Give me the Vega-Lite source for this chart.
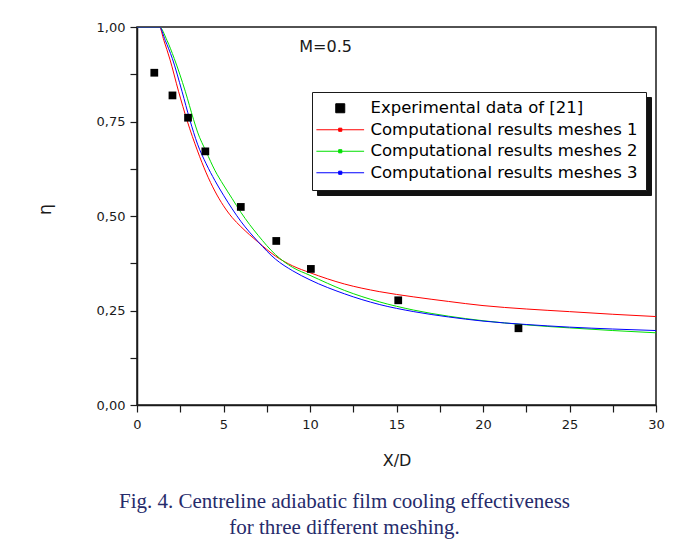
{
  "$schema": "https://vega.github.io/schema/vega-lite/v6.json",
  "width": 519,
  "height": 378,
  "autosize": {"type": "none"},
  "padding": {"left": 137, "top": 27, "right": 20, "bottom": 146},
  "background": "white",
  "config": {
    "view": {"stroke": "#1a1a1a", "strokeWidth": 1.5},
    "font": "DejaVu Sans",
    "axis": {
      "domainColor": "#1a1a1a", "domainWidth": 1.5,
      "tickColor": "#1a1a1a", "tickWidth": 1.2,
      "labelFont": "DejaVu Sans", "labelFontSize": 13, "labelColor": "#1a1a1a",
      "titleFont": "DejaVu Sans", "titleFontWeight": "normal", "titleColor": "#1a1a1a",
      "grid": false, "labelFlush": false, "labelOverlap": false, "labelBound": false
    }
  },
  "title": {
    "text": ["Fig. 4. Centreline adiabatic film cooling effectiveness", "for three different meshing."],
    "orient": "bottom",
    "anchor": "middle",
    "frame": "group",
    "font": "Liberation Serif",
    "fontSize": 21,
    "fontWeight": "normal",
    "color": "#262b6b",
    "lineHeight": 26,
    "dx": -52,
    "offset": 23
  },
  "datasets": {
    "sim": [
      {"series": "Computational results meshes 1", "x": 0, "eta": 1},
      {"series": "Computational results meshes 1", "x": 1.3, "eta": 1},
      {"series": "Computational results meshes 1", "x": 1.55, "eta": 0.965},
      {"series": "Computational results meshes 1", "x": 1.9, "eta": 0.915},
      {"series": "Computational results meshes 1", "x": 2.4, "eta": 0.83},
      {"series": "Computational results meshes 1", "x": 2.9, "eta": 0.752},
      {"series": "Computational results meshes 1", "x": 3.5, "eta": 0.672},
      {"series": "Computational results meshes 1", "x": 4, "eta": 0.614},
      {"series": "Computational results meshes 1", "x": 4.5, "eta": 0.566},
      {"series": "Computational results meshes 1", "x": 5, "eta": 0.527},
      {"series": "Computational results meshes 1", "x": 5.5, "eta": 0.496},
      {"series": "Computational results meshes 1", "x": 6, "eta": 0.472},
      {"series": "Computational results meshes 1", "x": 7, "eta": 0.431},
      {"series": "Computational results meshes 1", "x": 8, "eta": 0.394},
      {"series": "Computational results meshes 1", "x": 9, "eta": 0.368},
      {"series": "Computational results meshes 1", "x": 10, "eta": 0.35},
      {"series": "Computational results meshes 1", "x": 12, "eta": 0.32},
      {"series": "Computational results meshes 1", "x": 14, "eta": 0.3},
      {"series": "Computational results meshes 1", "x": 16, "eta": 0.286},
      {"series": "Computational results meshes 1", "x": 18, "eta": 0.274},
      {"series": "Computational results meshes 1", "x": 20, "eta": 0.263},
      {"series": "Computational results meshes 1", "x": 22.5, "eta": 0.254},
      {"series": "Computational results meshes 1", "x": 25, "eta": 0.247},
      {"series": "Computational results meshes 1", "x": 27.5, "eta": 0.24},
      {"series": "Computational results meshes 1", "x": 30, "eta": 0.234},
      {"series": "Computational results meshes 2", "x": 0, "eta": 1},
      {"series": "Computational results meshes 2", "x": 1.3, "eta": 1},
      {"series": "Computational results meshes 2", "x": 1.73, "eta": 0.965},
      {"series": "Computational results meshes 2", "x": 2.15, "eta": 0.917},
      {"series": "Computational results meshes 2", "x": 2.79, "eta": 0.83},
      {"series": "Computational results meshes 2", "x": 3.27, "eta": 0.755},
      {"series": "Computational results meshes 2", "x": 3.5, "eta": 0.722},
      {"series": "Computational results meshes 2", "x": 4, "eta": 0.67},
      {"series": "Computational results meshes 2", "x": 4.5, "eta": 0.621},
      {"series": "Computational results meshes 2", "x": 5, "eta": 0.582},
      {"series": "Computational results meshes 2", "x": 5.5, "eta": 0.546},
      {"series": "Computational results meshes 2", "x": 6, "eta": 0.51},
      {"series": "Computational results meshes 2", "x": 6.5, "eta": 0.478},
      {"series": "Computational results meshes 2", "x": 7, "eta": 0.449},
      {"series": "Computational results meshes 2", "x": 8, "eta": 0.398},
      {"series": "Computational results meshes 2", "x": 9, "eta": 0.364},
      {"series": "Computational results meshes 2", "x": 10, "eta": 0.343},
      {"series": "Computational results meshes 2", "x": 12, "eta": 0.303},
      {"series": "Computational results meshes 2", "x": 14, "eta": 0.273},
      {"series": "Computational results meshes 2", "x": 16, "eta": 0.251},
      {"series": "Computational results meshes 2", "x": 18, "eta": 0.235},
      {"series": "Computational results meshes 2", "x": 20, "eta": 0.223},
      {"series": "Computational results meshes 2", "x": 22.5, "eta": 0.212},
      {"series": "Computational results meshes 2", "x": 25, "eta": 0.204},
      {"series": "Computational results meshes 2", "x": 27.5, "eta": 0.197},
      {"series": "Computational results meshes 2", "x": 30, "eta": 0.191},
      {"series": "Computational results meshes 3", "x": 0, "eta": 1},
      {"series": "Computational results meshes 3", "x": 1.3, "eta": 1},
      {"series": "Computational results meshes 3", "x": 1.63, "eta": 0.965},
      {"series": "Computational results meshes 3", "x": 2.04, "eta": 0.917},
      {"series": "Computational results meshes 3", "x": 2.6, "eta": 0.83},
      {"series": "Computational results meshes 3", "x": 3.05, "eta": 0.755},
      {"series": "Computational results meshes 3", "x": 3.5, "eta": 0.69},
      {"series": "Computational results meshes 3", "x": 4, "eta": 0.638},
      {"series": "Computational results meshes 3", "x": 4.5, "eta": 0.594},
      {"series": "Computational results meshes 3", "x": 5, "eta": 0.555},
      {"series": "Computational results meshes 3", "x": 5.5, "eta": 0.519},
      {"series": "Computational results meshes 3", "x": 6, "eta": 0.486},
      {"series": "Computational results meshes 3", "x": 7, "eta": 0.432},
      {"series": "Computational results meshes 3", "x": 8, "eta": 0.386},
      {"series": "Computational results meshes 3", "x": 9, "eta": 0.355},
      {"series": "Computational results meshes 3", "x": 10, "eta": 0.331},
      {"series": "Computational results meshes 3", "x": 12, "eta": 0.294},
      {"series": "Computational results meshes 3", "x": 14, "eta": 0.266},
      {"series": "Computational results meshes 3", "x": 16, "eta": 0.247},
      {"series": "Computational results meshes 3", "x": 18, "eta": 0.233},
      {"series": "Computational results meshes 3", "x": 20, "eta": 0.222},
      {"series": "Computational results meshes 3", "x": 22.5, "eta": 0.213},
      {"series": "Computational results meshes 3", "x": 25, "eta": 0.206},
      {"series": "Computational results meshes 3", "x": 27.5, "eta": 0.201},
      {"series": "Computational results meshes 3", "x": 30, "eta": 0.197}
    ],
    "exp": [
      {"series": "Experimental data of [21]", "x": 1.0, "eta": 0.879},
      {"series": "Experimental data of [21]", "x": 2.05, "eta": 0.819},
      {"series": "Experimental data of [21]", "x": 2.95, "eta": 0.76},
      {"series": "Experimental data of [21]", "x": 3.95, "eta": 0.671},
      {"series": "Experimental data of [21]", "x": 6.0, "eta": 0.524},
      {"series": "Experimental data of [21]", "x": 8.05, "eta": 0.434},
      {"series": "Experimental data of [21]", "x": 10.05, "eta": 0.36},
      {"series": "Experimental data of [21]", "x": 15.1, "eta": 0.277},
      {"series": "Experimental data of [21]", "x": 22.05, "eta": 0.203}
    ]
  },
  "layer": [
    {
      "data": {"name": "sim"},
      "mark": {"type": "line", "strokeWidth": 1, "interpolate": "monotone", "clip": true},
      "encoding": {
        "x": {
          "field": "x", "type": "quantitative",
          "scale": {"domain": [0, 30], "nice": false, "zero": false},
          "axis": {
            "title": "X/D", "titleFontSize": 16, "titlePadding": 21,
            "values": [0, 2.5, 5, 7.5, 10, 12.5, 15, 17.5, 20, 22.5, 25, 27.5, 30],
            "labelExpr": "datum.value % 5 === 0 ? datum.label : ''",
            "tickSize": 7,
            "labelPadding": 6,
            "encode": {"ticks": {"update": {"y2": {"signal": "datum.value % 5 === 0 ? 7 : 4"}}}}
          }
        },
        "y": {
          "field": "eta", "type": "quantitative",
          "scale": {"domain": [0, 1], "nice": false, "zero": false},
          "axis": {
            "title": "η", "titleFontSize": 18,
            "titleX": -87, "titleY": 182, "titleBaseline": "alphabetic", "titleAlign": "center", "titleAngle": -90,
            "values": [0, 0.125, 0.25, 0.375, 0.5, 0.625, 0.75, 0.875, 1],
            "labelExpr": "abs(datum.value * 4 - round(datum.value * 4)) < 0.001 ? replace(format(datum.value, '.2f'), '.', ',') : ''",
            "tickSize": 7,
            "labelPadding": 5,
            "encode": {"ticks": {"update": {"x2": {"signal": "abs(datum.value * 4 - round(datum.value * 4)) < 0.001 ? -7 : -4"}}}}
          }
        },
        "color": {
          "field": "series", "type": "nominal",
          "scale": {
            "domain": ["Experimental data of [21]", "Computational results meshes 1", "Computational results meshes 2", "Computational results meshes 3"],
            "range": ["#000000", "#ff0000", "#00e000", "#0000ff"]
          },
          "legend": {
            "orient": "none", "legendX": 175, "legendY": 65, "title": null, "zindex": 2,
            "fillColor": "white", "strokeColor": "#1a1a1a", "padding": 8,
            "labelFont": "DejaVu Sans", "labelFontSize": 16.5, "labelColor": "black", "labelLimit": 400,
            "rowPadding": 4.5, "symbolSize": 81, "symbolOffset": 12, "labelOffset": 22, "symbolStrokeWidth": 1, "symbolOpacity": 1,
            "encode": {
              "symbols": {
                "update": {
                  "shape": {"signal": "datum.value === 'Experimental data of [21]' ? 'square' : 'M-5.3,0L5.3,0M-0.35,-0.35L0.35,-0.35L0.35,0.35L-0.35,0.35Z'"},
                  "fill": {"signal": "scale('color', datum.value)"},
                  "stroke": {"signal": "scale('color', datum.value)"}
                }
              }
            }
          }
        }
      }
    },
    {
      "data": {"name": "exp"},
      "mark": {"type": "point", "filled": true, "size": 60, "opacity": 1},
      "encoding": {
        "x": {"field": "x", "type": "quantitative"},
        "y": {"field": "eta", "type": "quantitative"},
        "color": {"field": "series", "type": "nominal"},
        "shape": {
          "field": "series", "type": "nominal",
          "scale": {
            "domain": ["Computational results meshes 3", "Computational results meshes 2", "Computational results meshes 1", "Experimental data of [21]"],
            "range": ["square", "square", "square", "square"]
          },
          "legend": {
            "orient": "none", "legendX": 180, "legendY": 70, "title": null, "zindex": 1,
            "fillColor": "#111111", "strokeColor": "#111111", "padding": 8,
            "labelFont": "DejaVu Sans", "labelFontSize": 16.5, "labelColor": "#111111", "labelLimit": 400,
            "labelExpr": "''",
            "rowPadding": 4.5, "symbolSize": 81, "symbolOffset": 301, "labelOffset": 0, "symbolStrokeWidth": 1,
            "symbolFillColor": "#111111", "symbolStrokeColor": "#111111"
          }
        }
      }
    },
    {
      "data": {"values": [{}]},
      "mark": {"type": "text", "font": "DejaVu Sans", "fontSize": 16, "color": "#1a1a1a", "align": "center", "baseline": "middle"},
      "encoding": {
        "x": {"datum": 10.9, "type": "quantitative"},
        "y": {"datum": 0.947, "type": "quantitative"},
        "text": {"value": "M=0.5"}
      }
    }
  ]
}
